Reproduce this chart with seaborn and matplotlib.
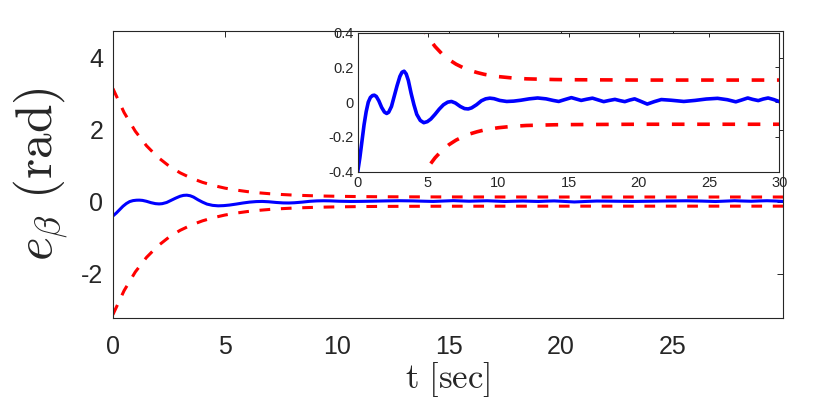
import numpy as np
import matplotlib
matplotlib.use('Agg')
import matplotlib.pyplot as plt
import seaborn as sns

# tracking error e_beta (rad)
T_ERR = [0, 0.15, 0.3, 0.45, 0.6, 0.75, 0.9, 1.05, 1.18, 1.32, 1.5, 1.7, 1.9, 2.06, 2.2,
         2.4, 2.6, 2.8, 3.0, 3.15, 3.3, 3.45, 3.6, 3.8, 4.0, 4.2, 4.45, 4.7, 4.95, 5.2,
         5.5, 5.8, 6.1, 6.4, 6.67, 6.95, 7.3, 7.6, 7.86, 8.1, 8.45, 8.8, 9.1, 9.4, 9.7,
         10.1, 10.6, 11.1, 11.6, 12.2, 12.8, 13.4, 13.9, 14.3, 14.7, 15.2, 15.55, 15.9,
         16.3, 16.7, 17.1, 17.5, 17.9, 18.3, 18.65, 19.0, 19.35, 19.7, 20.1, 20.6, 21.1,
         21.6, 22.3, 23.2, 24.0, 24.8, 25.6, 26.3, 26.9, 27.3, 27.75, 28.1, 28.5, 28.85,
         29.2, 29.6, 30.0]
E_BETA = [-0.40, -0.32, -0.225, -0.13, -0.055, 0.0, 0.027, 0.038, 0.040, 0.033, 0.008,
          -0.03, -0.057, -0.065, -0.058, -0.025, 0.035, 0.095, 0.148, 0.172, 0.178, 0.162,
          0.125, 0.05, -0.015, -0.07, -0.105, -0.118, -0.112, -0.097, -0.07, -0.04, -0.015,
          0.0, 0.004, -0.005, -0.025, -0.037, -0.039, -0.033, -0.015, 0.008, 0.019, 0.023,
          0.02, 0.01, 0.004, 0.006, 0.011, 0.019, 0.024, 0.019, 0.01, 0.004, 0.014, 0.026,
          0.018, 0.010, 0.017, 0.023, 0.013, 0.003, 0.010, 0.016, 0.009, 0.003, 0.012,
          0.019, 0.006, -0.011, 0.003, 0.015, 0.011, 0.004, 0.010, 0.018, 0.022, 0.014,
          0.002, 0.012, 0.024, 0.016, 0.009, 0.018, 0.024, 0.015, 0.003]

# performance bound (upper), lower bound is the mirror image
T_BOUND = [0, 0.5, 1, 1.5, 2, 2.5, 3, 3.5, 4, 4.5, 5, 5.5, 6, 6.5, 7, 7.5, 8, 8.5, 9,
           9.5, 10, 11, 12, 13, 14, 15, 20, 25, 30]
RHO_UP = [3.141, 2.474, 1.955, 1.551, 1.236, 0.991, 0.799, 0.651, 0.535, 0.445, 0.374,
          0.320, 0.277, 0.244, 0.218, 0.198, 0.182, 0.170, 0.160, 0.153, 0.147, 0.139,
          0.134, 0.132, 0.130, 0.129, 0.127, 0.127, 0.127]
RHO_LOW = [-v for v in RHO_UP]

MAIN_XTICKS = [0, 5, 10, 15, 20, 25]
MAIN_YTICKS = [-2, 0, 2, 4]
INSET_XTICKS = [0, 5, 10, 15, 20, 25, 30]
INSET_YTICKS = [-0.4, -0.2, 0, 0.2, 0.4]
INSET_YLABELS = ['-0.4', '-0.2', '0', '0.2', '0.4']

sns.set_style('white')
plt.rcParams['font.family'] = ['Liberation Sans', 'DejaVu Sans']
plt.rcParams['mathtext.fontset'] = 'cm'
plt.rcParams['axes.unicode_minus'] = False

AX_COL = '#262626'
DASH = (0, (3.5, 3.5))


def style_axes(ax, size, length, pad):
    for s in ax.spines.values():
        s.set_visible(True)
        s.set_color(AX_COL)
        s.set_linewidth(0.8)
    ax.tick_params(direction='in', top=True, right=True, length=length, width=0.7,
                   colors=AX_COL, labelsize=size, pad=pad)


def draw_curves(ax, lw):
    sns.lineplot(x=T_BOUND, y=RHO_UP, ax=ax, color='#ff0000', lw=lw, linestyle=DASH)
    sns.lineplot(x=T_BOUND, y=RHO_LOW, ax=ax, color='#ff0000', lw=lw, linestyle=DASH)
    sns.lineplot(x=T_ERR, y=E_BETA, ax=ax, color='#0000ff', lw=lw)


fig = plt.figure(figsize=(8.3, 4.07), dpi=100)
fig.patch.set_facecolor('white')

ax = fig.add_axes([0.136, 0.219, 0.807, 0.705])
draw_curves(ax, 2.2)
ax.set_xlim(0, 29.9)
ax.set_ylim(-3.23, 4.74)
ax.set_xticks(MAIN_XTICKS)
ax.set_yticks(MAIN_YTICKS)
style_axes(ax, 18, 4.5, 12)
ax.tick_params(axis='y', pad=7)
ax.set_xlabel(r'$\mathrm{t\ [sec]}$', fontsize=25, labelpad=1)
ax.set_ylabel(r'$e_\beta\ (\mathrm{rad})$', fontsize=37, labelpad=7)

ins = fig.add_axes([0.431, 0.578, 0.508, 0.342])
draw_curves(ins, 2.6)
ins.set_xlim(0, 30)
ins.set_ylim(-0.4, 0.4)
ins.set_xticks(INSET_XTICKS)
ins.set_yticks(INSET_YTICKS)
ins.set_yticklabels(INSET_YLABELS)
style_axes(ins, 10.5, 3, 3)
ins.set_xlabel('')
ins.set_ylabel('')

fig.savefig('out.png', dpi=100, facecolor='white')
